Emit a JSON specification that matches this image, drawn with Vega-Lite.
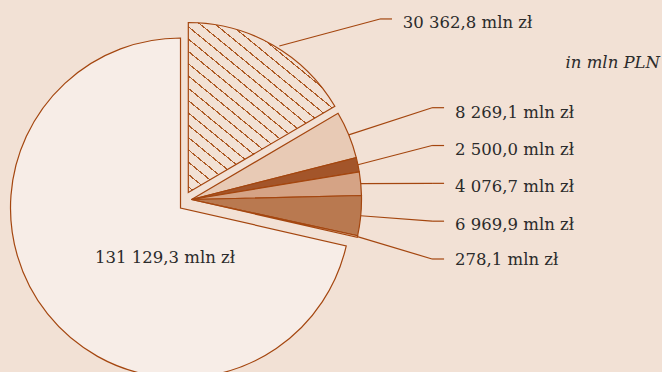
{
  "$schema": "https://vega.github.io/schema/vega-lite/v6.json",
  "width": 662,
  "height": 372,
  "autosize": {"type": "none"},
  "padding": 0,
  "background": "#f2e1d5",
  "config": {"view": {"stroke": null}},
  "data": {
    "values": [
      {"order": 1, "label": "30 362,8 mln zł", "value": 30362.8, "group": "hatch"},
      {"order": 2, "label": "8 269,1 mln zł", "value": 8269.1, "group": "mid"},
      {"order": 3, "label": "2 500,0 mln zł", "value": 2500.0, "group": "mid"},
      {"order": 4, "label": "4 076,7 mln zł", "value": 4076.7, "group": "mid"},
      {"order": 5, "label": "6 969,9 mln zł", "value": 6969.9, "group": "mid"},
      {"order": 6, "label": "278,1 mln zł", "value": 278.1, "group": "mid"},
      {"order": 7, "label": "131 129,3 mln zł", "value": 131129.3, "group": "big"}
    ]
  },
  "layer": [
    {
      "mark": {"type": "arc", "radius": 170, "stroke": "#a4460f", "strokeWidth": 1.2},
      "encoding": {
        "x": {"datum": -0.0647, "type": "quantitative", "scale": {"domain": [-1.1265, 2.7676], "nice": false, "zero": false}, "axis": null},
        "y": {"datum": -0.05, "type": "quantitative", "scale": {"domain": [-1.0147, 1.1735], "nice": false, "zero": false}, "axis": null},
        "theta": {"field": "value", "type": "quantitative", "stack": true},
        "order": {"field": "order", "type": "quantitative"},
        "color": {"field": "label", "type": "nominal", "legend": null,
          "scale": {"domain": ["30 362,8 mln zł", "8 269,1 mln zł", "2 500,0 mln zł", "4 076,7 mln zł", "6 969,9 mln zł", "278,1 mln zł", "131 129,3 mln zł"],
                    "range": ["#f2e1d5", "#e8cab5", "#a3552a", "#d5a385", "#b97950", "#e8cab5", "#f7ede7"]}},
        "opacity": {"condition": {"test": "datum.group === 'big'", "value": 1}, "value": 0}
      }
    },
    {
      "mark": {"type": "arc", "radius": 170, "stroke": "#a4460f", "strokeWidth": 1.2},
      "encoding": {
        "x": {"datum": 0, "type": "quantitative", "scale": {"domain": [-1.1265, 2.7676], "nice": false, "zero": false}, "axis": null},
        "y": {"datum": 0, "type": "quantitative", "scale": {"domain": [-1.0147, 1.1735], "nice": false, "zero": false}, "axis": null},
        "theta": {"field": "value", "type": "quantitative", "stack": true},
        "order": {"field": "order", "type": "quantitative"},
        "color": {"field": "label", "type": "nominal", "legend": null},
        "opacity": {"condition": {"test": "datum.group === 'mid'", "value": 1}, "value": 0}
      }
    },
    {
      "mark": {
        "type": "arc", "radius": 170, "stroke": "#a4460f", "strokeWidth": 1.2,
        "fill": {
          "gradient": "linear", "x1": 0, "y1": 1, "x2": 0.805, "y2": -0.138,
          "stops": [
            {"offset": 0, "color": "#f2e1d5"},
            {"offset": 0.0174, "color": "#f2e1d5"}, {"offset": 0.0174, "color": "#ad5a25"}, {"offset": 0.0224, "color": "#ad5a25"}, {"offset": 0.0224, "color": "#f2e1d5"},
            {"offset": 0.0598, "color": "#f2e1d5"}, {"offset": 0.0598, "color": "#ad5a25"}, {"offset": 0.0648, "color": "#ad5a25"}, {"offset": 0.0648, "color": "#f2e1d5"},
            {"offset": 0.1022, "color": "#f2e1d5"}, {"offset": 0.1022, "color": "#ad5a25"}, {"offset": 0.1072, "color": "#ad5a25"}, {"offset": 0.1072, "color": "#f2e1d5"},
            {"offset": 0.1446, "color": "#f2e1d5"}, {"offset": 0.1446, "color": "#ad5a25"}, {"offset": 0.1496, "color": "#ad5a25"}, {"offset": 0.1496, "color": "#f2e1d5"},
            {"offset": 0.1870, "color": "#f2e1d5"}, {"offset": 0.1870, "color": "#ad5a25"}, {"offset": 0.1920, "color": "#ad5a25"}, {"offset": 0.1920, "color": "#f2e1d5"},
            {"offset": 0.2294, "color": "#f2e1d5"}, {"offset": 0.2294, "color": "#ad5a25"}, {"offset": 0.2344, "color": "#ad5a25"}, {"offset": 0.2344, "color": "#f2e1d5"},
            {"offset": 0.2718, "color": "#f2e1d5"}, {"offset": 0.2718, "color": "#ad5a25"}, {"offset": 0.2768, "color": "#ad5a25"}, {"offset": 0.2768, "color": "#f2e1d5"},
            {"offset": 0.3142, "color": "#f2e1d5"}, {"offset": 0.3142, "color": "#ad5a25"}, {"offset": 0.3192, "color": "#ad5a25"}, {"offset": 0.3192, "color": "#f2e1d5"},
            {"offset": 0.3566, "color": "#f2e1d5"}, {"offset": 0.3566, "color": "#ad5a25"}, {"offset": 0.3616, "color": "#ad5a25"}, {"offset": 0.3616, "color": "#f2e1d5"},
            {"offset": 0.3990, "color": "#f2e1d5"}, {"offset": 0.3990, "color": "#ad5a25"}, {"offset": 0.4040, "color": "#ad5a25"}, {"offset": 0.4040, "color": "#f2e1d5"},
            {"offset": 0.4414, "color": "#f2e1d5"}, {"offset": 0.4414, "color": "#ad5a25"}, {"offset": 0.4464, "color": "#ad5a25"}, {"offset": 0.4464, "color": "#f2e1d5"},
            {"offset": 0.4838, "color": "#f2e1d5"}, {"offset": 0.4838, "color": "#ad5a25"}, {"offset": 0.4888, "color": "#ad5a25"}, {"offset": 0.4888, "color": "#f2e1d5"},
            {"offset": 0.5262, "color": "#f2e1d5"}, {"offset": 0.5262, "color": "#ad5a25"}, {"offset": 0.5312, "color": "#ad5a25"}, {"offset": 0.5312, "color": "#f2e1d5"},
            {"offset": 0.5686, "color": "#f2e1d5"}, {"offset": 0.5686, "color": "#ad5a25"}, {"offset": 0.5736, "color": "#ad5a25"}, {"offset": 0.5736, "color": "#f2e1d5"},
            {"offset": 0.6110, "color": "#f2e1d5"}, {"offset": 0.6110, "color": "#ad5a25"}, {"offset": 0.6160, "color": "#ad5a25"}, {"offset": 0.6160, "color": "#f2e1d5"},
            {"offset": 0.6534, "color": "#f2e1d5"}, {"offset": 0.6534, "color": "#ad5a25"}, {"offset": 0.6584, "color": "#ad5a25"}, {"offset": 0.6584, "color": "#f2e1d5"},
            {"offset": 0.6958, "color": "#f2e1d5"}, {"offset": 0.6958, "color": "#ad5a25"}, {"offset": 0.7008, "color": "#ad5a25"}, {"offset": 0.7008, "color": "#f2e1d5"},
            {"offset": 0.7382, "color": "#f2e1d5"}, {"offset": 0.7382, "color": "#ad5a25"}, {"offset": 0.7432, "color": "#ad5a25"}, {"offset": 0.7432, "color": "#f2e1d5"},
            {"offset": 0.7806, "color": "#f2e1d5"}, {"offset": 0.7806, "color": "#ad5a25"}, {"offset": 0.7856, "color": "#ad5a25"}, {"offset": 0.7856, "color": "#f2e1d5"},
            {"offset": 0.8230, "color": "#f2e1d5"}, {"offset": 0.8230, "color": "#ad5a25"}, {"offset": 0.8280, "color": "#ad5a25"}, {"offset": 0.8280, "color": "#f2e1d5"},
            {"offset": 0.8654, "color": "#f2e1d5"}, {"offset": 0.8654, "color": "#ad5a25"}, {"offset": 0.8704, "color": "#ad5a25"}, {"offset": 0.8704, "color": "#f2e1d5"},
            {"offset": 0.9078, "color": "#f2e1d5"}, {"offset": 0.9078, "color": "#ad5a25"}, {"offset": 0.9128, "color": "#ad5a25"}, {"offset": 0.9128, "color": "#f2e1d5"},
            {"offset": 0.9502, "color": "#f2e1d5"}, {"offset": 0.9502, "color": "#ad5a25"}, {"offset": 0.9552, "color": "#ad5a25"}, {"offset": 0.9552, "color": "#f2e1d5"},
            {"offset": 0.9926, "color": "#f2e1d5"}, {"offset": 0.9926, "color": "#ad5a25"}, {"offset": 0.9976, "color": "#ad5a25"}, {"offset": 0.9976, "color": "#f2e1d5"},
            {"offset": 1, "color": "#f2e1d5"}
          ]
        }
      },
      "encoding": {
        "x": {"datum": -0.0188, "type": "quantitative", "scale": {"domain": [-1.1265, 2.7676], "nice": false, "zero": false}, "axis": null},
        "y": {"datum": 0.0412, "type": "quantitative", "scale": {"domain": [-1.0147, 1.1735], "nice": false, "zero": false}, "axis": null},
        "theta": {"field": "value", "type": "quantitative", "stack": true},
        "order": {"field": "order", "type": "quantitative"},
        "opacity": {"condition": {"test": "datum.group === 'hatch'", "value": 1}, "value": 0}
      }
    },
    {
      "transform": [
        {"joinaggregate": [{"op": "sum", "field": "value", "as": "total"}]},
        {"window": [{"op": "sum", "field": "value", "as": "cum"}], "sort": [{"field": "order"}], "frame": [null, 0]},
        {"calculate": "2*PI*(datum.cum - datum.value/2)/datum.total", "as": "mid"},
        {"calculate": "(datum.order == 1 ? 1.04 : 1.0) * sin(datum.mid)", "as": "ex"},
        {"calculate": "(datum.order == 1 ? 1.04 : 1.0) * cos(datum.mid)", "as": "ey"},
        {"calculate": "datum.order == 1 ? 1.109 : 1.415", "as": "lx"},
        {"calculate": "datum.order == 1 ? 1.062 : 0.985 - 0.2225 * datum.order", "as": "ly"},
        {"calculate": "datum.lx + 0.0706", "as": "lx2"},
        {"calculate": "datum.order == 7 ? -0.5676 : (datum.order == 1 ? 1.243 : 1.55)", "as": "tx"},
        {"calculate": "datum.order == 7 ? -0.322 : (datum.order == 6 ? datum.ly + 0.02 : (datum.order == 2 ? datum.ly - 0.01 : datum.ly))", "as": "ty"}
      ],
      "layer": [
        {
          "transform": [{"filter": "datum.order != 7"}],
          "mark": {"type": "rule", "stroke": "#a4460f", "strokeWidth": 1.2},
          "encoding": {
            "x": {"field": "ex", "type": "quantitative", "scale": {"domain": [-1.1265, 2.7676], "nice": false, "zero": false}, "axis": null},
            "y": {"field": "ey", "type": "quantitative", "scale": {"domain": [-1.0147, 1.1735], "nice": false, "zero": false}, "axis": null},
            "x2": {"field": "lx"},
            "y2": {"field": "ly"}
          }
        },
        {
          "transform": [{"filter": "datum.order != 7"}],
          "mark": {"type": "rule", "stroke": "#a4460f", "strokeWidth": 1.2},
          "encoding": {
            "x": {"field": "lx", "type": "quantitative", "scale": {"domain": [-1.1265, 2.7676], "nice": false, "zero": false}, "axis": null},
            "y": {"field": "ly", "type": "quantitative", "scale": {"domain": [-1.0147, 1.1735], "nice": false, "zero": false}, "axis": null},
            "x2": {"field": "lx2"}
          }
        },
        {
          "mark": {"type": "text", "align": "left", "baseline": "alphabetic", "dy": 9, "font": "DejaVu Serif", "fontSize": 16.5, "color": "#2b2b2b"},
          "encoding": {
            "x": {"field": "tx", "type": "quantitative", "scale": {"domain": [-1.1265, 2.7676], "nice": false, "zero": false}, "axis": null},
            "y": {"field": "ty", "type": "quantitative", "scale": {"domain": [-1.0147, 1.1735], "nice": false, "zero": false}, "axis": null},
            "text": {"field": "label"}
          }
        }
      ]
    },
    {
      "data": {"values": [{"note": "in mln PLN"}]},
      "mark": {"type": "text", "align": "right", "baseline": "alphabetic", "font": "DejaVu Serif", "fontStyle": "italic", "fontSize": 16.5, "color": "#2b2b2b"},
      "encoding": {
        "x": {"datum": 2.756, "type": "quantitative", "scale": {"domain": [-1.1265, 2.7676], "nice": false, "zero": false}, "axis": null},
        "y": {"datum": 0.772, "type": "quantitative", "scale": {"domain": [-1.0147, 1.1735], "nice": false, "zero": false}, "axis": null},
        "text": {"field": "note"}
      }
    }
  ]
}
